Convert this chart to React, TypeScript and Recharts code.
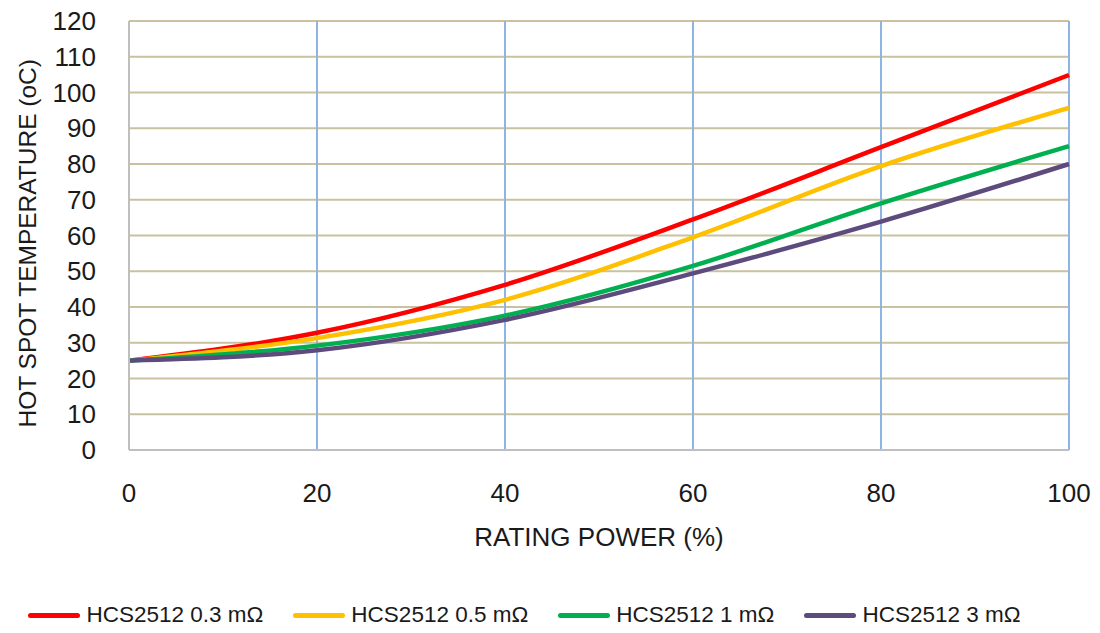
import React from "react";
import {
  LineChart,
  Line,
  XAxis,
  YAxis,
  CartesianGrid,
  Legend,
} from "recharts";

const ratingPower = [0, 20, 40, 60, 80, 100];
const r03 = [25, 32.8, 46.2, 64.5, 84.7, 104.9];
const r05 = [25, 31.3, 42, 59.5, 79.4, 95.7];
const r1 = [25, 29.2, 37.6, 51.5, 69, 85];
const r3 = [25, 27.9, 36.4, 49.4, 63.9, 80];

const xTicks = [0, 20, 40, 60, 80, 100];
const yTicks = [0, 10, 20, 30, 40, 50, 60, 70, 80, 90, 100, 110, 120];

const series = [
  { key: "r03", name: "HCS2512 0.3 mΩ", color: "#FF0000" },
  { key: "r05", name: "HCS2512 0.5 mΩ", color: "#FFC000" },
  { key: "r1", name: "HCS2512 1 mΩ", color: "#00B050" },
  { key: "r3", name: "HCS2512 3 mΩ", color: "#5E4B7E" },
];

const data = ratingPower.map((p, i) => ({
  p,
  r03: r03[i],
  r05: r05[i],
  r1: r1[i],
  r3: r3[i],
}));

const font = "Liberation Sans, Arial, sans-serif";

const renderLegend = () => (
  <div
    style={{
      display: "flex",
      justifyContent: "center",
      gap: 30,
      fontFamily: font,
      fontSize: 22.5,
      color: "#1a1a1a",
      paddingTop: 9,
      paddingRight: 20,
    }}
  >
    {series.map((s) => (
      <div key={s.key} style={{ display: "flex", alignItems: "center" }}>
        <div
          style={{
            width: 52,
            height: 5,
            borderRadius: 3,
            background: s.color,
            marginRight: 6,
          }}
        />
        <span>{s.name}</span>
      </div>
    ))}
  </div>
);

export default function App() {
  return (
    <div style={{ position: "absolute", left: 0, top: 0, background: "#fff" }}>
      <LineChart
        width={1100}
        height={633}
        data={data}
        margin={{ top: 21, right: 31, left: 0, bottom: 0 }}
      >
        <CartesianGrid
          vertical={false}
          stroke="#C9C1A0"
          strokeWidth={2}
        />
        <CartesianGrid
          horizontal={false}
          stroke="#8DB4E2"
          strokeWidth={2}
        />
        <XAxis
          dataKey="p"
          type="number"
          domain={[0, 100]}
          ticks={xTicks}
          stroke="#BFBFBF"
          strokeWidth={2}
          tickLine={false}
          tickMargin={28}
          tick={{ fill: "#1a1a1a", fontSize: 26, fontFamily: font }}
          height={143}
          label={{
            value: "RATING POWER (%)",
            position: "insideTop",
            offset: 78,
            fill: "#1a1a1a",
            fontSize: 26,
            fontFamily: font,
          }}
        />
        <YAxis
          type="number"
          domain={[0, 120]}
          ticks={yTicks}
          interval={0}
          stroke="#BFBFBF"
          strokeWidth={2}
          tickLine={false}
          tickMargin={27}
          width={129}
          tick={{ fill: "#1a1a1a", fontSize: 26, fontFamily: font }}
          label={{
            value: "HOT SPOT TEMPERATURE (oC)",
            angle: -90,
            position: "insideLeft",
            offset: 27,
            dy: 192,
            fill: "#1a1a1a",
            fontSize: 24.5,
            fontFamily: font,
          }}
        />
        <Legend verticalAlign="bottom" height={40} content={renderLegend} />
        {series.map((s) => (
          <Line
            key={s.key}
            type="monotone"
            dataKey={s.key}
            name={s.name}
            stroke={s.color}
            strokeWidth={4.5}
            dot={false}
            isAnimationActive={false}
          />
        ))}
      </LineChart>
    </div>
  );
}
